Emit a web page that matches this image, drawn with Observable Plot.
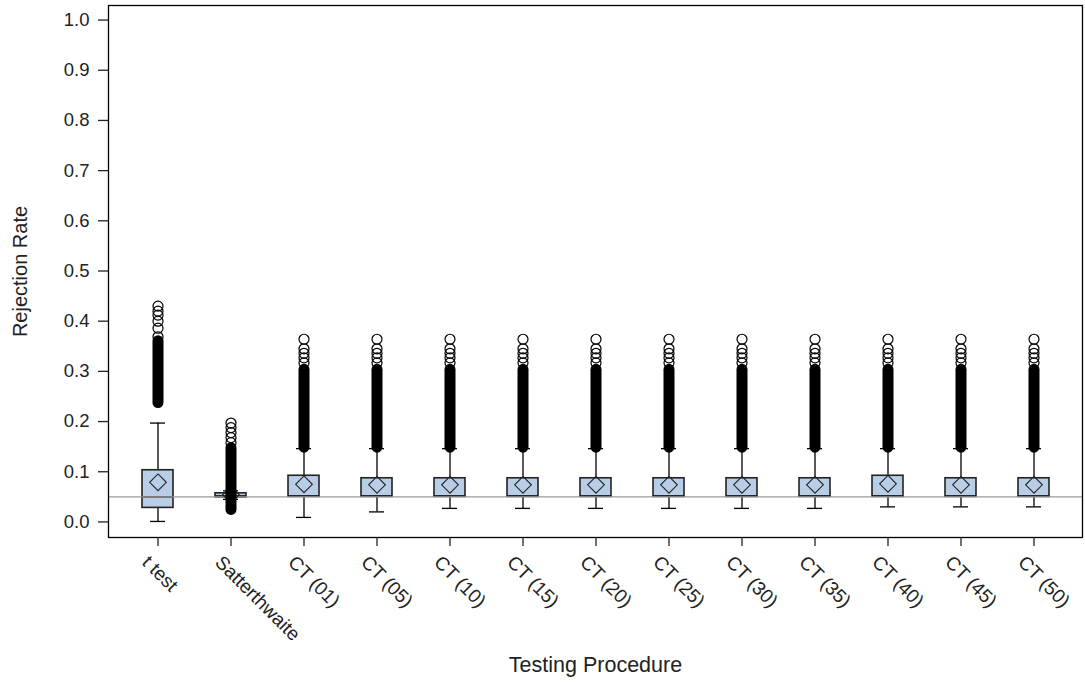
<!DOCTYPE html>
<html><head><meta charset="utf-8">
<script src="https://cdn.jsdelivr.net/npm/d3@7"></script>
<script src="https://cdn.jsdelivr.net/npm/@observablehq/plot@0.6"></script>
<style>body{margin:0;background:#fff;} svg{display:block}</style>
</head><body><div id="chart"></div>
<script>
const categories = ["t test","Satterthwaite","CT (01)","CT (05)","CT (10)","CT (15)","CT (20)","CT (25)","CT (30)","CT (35)","CT (40)","CT (45)","CT (50)"];
const q1          = [0.028, 0.049, 0.050, 0.050, 0.050, 0.050, 0.050, 0.050, 0.050, 0.050, 0.050, 0.050, 0.050];
const median      = [0.050, 0.052, 0.052, 0.052, 0.052, 0.052, 0.052, 0.052, 0.052, 0.052, 0.052, 0.052, 0.052];
const q3          = [0.103, 0.057, 0.092, 0.087, 0.087, 0.087, 0.087, 0.087, 0.087, 0.087, 0.092, 0.087, 0.087];
const whiskerLow  = [0.001, 0.045, 0.009, 0.020, 0.027, 0.027, 0.027, 0.027, 0.027, 0.027, 0.030, 0.030, 0.030];
const whiskerHigh = [0.197, 0.062, 0.146, 0.146, 0.146, 0.146, 0.146, 0.146, 0.146, 0.146, 0.146, 0.146, 0.146];
const meanValue   = [0.079, 0.054, 0.075, 0.074, 0.074, 0.074, 0.074, 0.074, 0.074, 0.074, 0.076, 0.074, 0.074];
// dense (overlapping) outlier range, low and high end
const denseLow    = [0.237, 0.024, 0.148, 0.148, 0.148, 0.148, 0.148, 0.148, 0.148, 0.148, 0.148, 0.148, 0.148];
const denseHigh   = [0.360, 0.147, 0.303, 0.303, 0.303, 0.303, 0.303, 0.303, 0.303, 0.303, 0.303, 0.303, 0.303];
// individually visible outliers
const sparseOutliers = [
  [0.369, 0.386, 0.400, 0.412, 0.420, 0.430],
  [0.158, 0.168, 0.178, 0.188, 0.197],
  [0.317, 0.327, 0.336, 0.345, 0.364],
  [0.317, 0.327, 0.336, 0.345, 0.364],
  [0.317, 0.327, 0.336, 0.345, 0.364],
  [0.317, 0.327, 0.336, 0.345, 0.364],
  [0.317, 0.327, 0.336, 0.345, 0.364],
  [0.317, 0.327, 0.336, 0.345, 0.364],
  [0.317, 0.327, 0.336, 0.345, 0.364],
  [0.317, 0.327, 0.336, 0.345, 0.364],
  [0.317, 0.327, 0.336, 0.345, 0.364],
  [0.317, 0.327, 0.336, 0.345, 0.364],
  [0.317, 0.327, 0.336, 0.345, 0.364]
];
const referenceLevel = [0.05];
const yTicks = [0.0, 0.1, 0.2, 0.3, 0.4, 0.5, 0.6, 0.7, 0.8, 0.9, 1.0];
const yTickLabels = ["0.0","0.1","0.2","0.3","0.4","0.5","0.6","0.7","0.8","0.9","1.0"];
const xTitle = "Testing Procedure";
const yTitle = "Rejection Rate";

const rows = categories.map((c, i) => ({
  cat: c, q1: q1[i], median: median[i], q3: q3[i],
  lo: whiskerLow[i], hi: whiskerHigh[i], mean: meanValue[i],
  dLo: denseLow[i], dHi: denseHigh[i]
}));
const outlierDots = categories.flatMap((c, i) => sparseOutliers[i].map(v => ({cat: c, v})));
const yTickRows = yTicks.map((v, i) => ({v, label: yTickLabels[i]}));

const font = "'Liberation Sans', Arial, Helvetica, sans-serif";
const chart = Plot.plot({
  width: 1085, height: 684,
  marginLeft: 108, marginRight: 3, marginTop: 5, marginBottom: 147,
  style: {fontFamily: font, fontSize: "19px", background: "#fff", color: "#222"},
  x: {type: "band", domain: categories, paddingInner: 0.58, paddingOuter: 0.427, label: null},
  y: {domain: [-0.031, 1.029], label: null},
  marks: [
    Plot.ruleX(rows, {x: "cat", y1: "lo", y2: "q1", stroke: "#000", strokeWidth: 1.3}),
    Plot.ruleX(rows, {x: "cat", y1: "q3", y2: "hi", stroke: "#000", strokeWidth: 1.3}),
    Plot.tickY(rows, {x: "cat", y: "lo", insetLeft: 8, insetRight: 8, stroke: "#000", strokeWidth: 1.3}),
    Plot.tickY(rows, {x: "cat", y: "hi", insetLeft: 8, insetRight: 8, stroke: "#000", strokeWidth: 1.3}),
    Plot.barY(rows, {x: "cat", y1: "q1", y2: "q3", fill: "#b8cde6", stroke: "#222", strokeWidth: 1.6}),
    Plot.tickY(rows, {x: "cat", y: "median", stroke: "#222", strokeWidth: 1.6}),
    Plot.ruleY(referenceLevel, {stroke: "#9a9a9a", strokeWidth: 1.3}),
    Plot.dot(rows, {x: "cat", y: "mean", symbol: "diamond2", r: 7.5, stroke: "#222", fill: "none", strokeWidth: 1.1}),
    Plot.ruleX(rows, {x: "cat", y1: "dLo", y2: "dHi", stroke: "#000", strokeWidth: 11, strokeLinecap: "round"}),
    Plot.dot(outlierDots, {x: "cat", y: "v", r: 5, stroke: "#000", fill: "none", strokeWidth: 1.2}),
    Plot.frame({stroke: "#000", strokeWidth: 1.3}),
    Plot.axisY({ticks: yTicks, tickFormat: () => "", tickSize: 10, label: null, strokeWidth: 1.3}),
    Plot.text(yTickRows, {y: "v", text: "label", frameAnchor: "left", textAnchor: "end", lineAnchor: "middle", dx: -19, fontSize: 18.5, fill: "#222"}),
    Plot.axisX({tickSize: 9, tickFormat: () => "", label: null, strokeWidth: 1.3}),
    Plot.text(categories, {x: d => d, frameAnchor: "bottom", text: d => d, rotate: 45, textAnchor: "start", lineAnchor: "bottom", dx: -17, dy: 26, fontSize: 19, fill: "#222"}),
    Plot.text([xTitle], {frameAnchor: "bottom", text: d => d, textAnchor: "middle", lineAnchor: "middle", dy: 128, fontSize: 21.5, fill: "#222"}),
    Plot.text([yTitle], {frameAnchor: "left", text: d => d, textAnchor: "middle", lineAnchor: "middle", dx: -88, rotate: -90, fontSize: 20, fill: "#222"})
  ]
});
document.getElementById("chart").appendChild(chart);
</script>
</body></html>
